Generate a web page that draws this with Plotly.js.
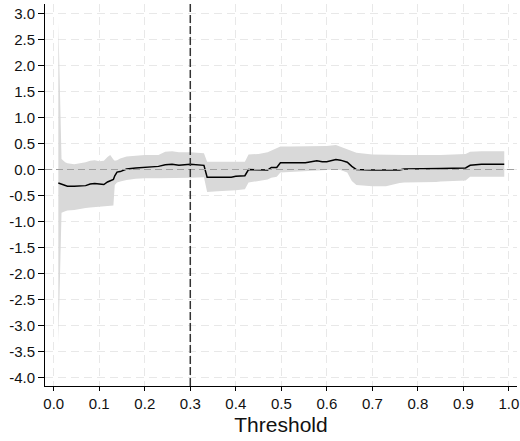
<!DOCTYPE html>
<html>
<head>
<meta charset="utf-8">
<script src="https://cdn.plot.ly/plotly-3.0.1.min.js"></script>
<style>html,body{margin:0;padding:0;background:#fff;}#chart{width:520px;height:441px;}</style>
</head>
<body>
<div id="chart"></div>
<script>
// Threshold values (x)
const threshold = [0.010,0.017,0.025,0.030,0.045,0.060,0.070,0.080,0.090,0.100,0.110,0.118,0.124,0.131,0.134,0.139,0.146,0.160,0.180,0.200,0.230,0.245,0.260,0.275,0.300,0.330,0.337,0.360,0.390,0.400,0.420,0.428,0.450,0.470,0.478,0.490,0.498,0.520,0.553,0.578,0.590,0.600,0.620,0.630,0.645,0.655,0.665,0.700,0.730,0.760,0.770,0.840,0.850,0.905,0.915,0.940,0.990];
// Point estimate
const estimate = [-0.26,-0.28,-0.31,-0.32,-0.32,-0.32,-0.31,-0.28,-0.27,-0.28,-0.29,-0.24,-0.21,-0.19,-0.12,-0.05,-0.04,0.01,0.03,0.04,0.06,0.09,0.10,0.08,0.10,0.08,-0.15,-0.15,-0.15,-0.13,-0.12,0.00,0.00,-0.01,0.04,0.04,0.13,0.13,0.13,0.17,0.15,0.15,0.19,0.18,0.14,0.06,0.00,-0.01,-0.01,-0.01,0.01,0.01,0.02,0.03,0.08,0.10,0.10];
// Lower confidence bound
const lower = [-3.37,-0.83,-0.80,-0.79,-0.78,-0.75,-0.74,-0.73,-0.72,-0.72,-0.71,-0.70,-0.70,-0.69,-0.30,-0.25,-0.23,-0.20,-0.18,-0.17,-0.17,-0.17,-0.16,-0.16,-0.16,-0.15,-0.43,-0.42,-0.41,-0.40,-0.38,-0.25,-0.22,-0.19,-0.16,-0.14,-0.06,-0.05,-0.03,-0.01,-0.01,-0.01,0.00,-0.01,-0.06,-0.22,-0.30,-0.32,-0.32,-0.26,-0.25,-0.24,-0.23,-0.21,-0.14,-0.14,-0.14];
// Upper confidence bound
const upper = [2.84,0.20,0.14,0.12,0.10,0.12,0.14,0.17,0.18,0.16,0.17,0.24,0.28,0.19,0.17,0.18,0.21,0.25,0.27,0.28,0.28,0.34,0.35,0.33,0.33,0.31,0.15,0.15,0.15,0.15,0.15,0.29,0.30,0.33,0.36,0.40,0.44,0.44,0.44,0.45,0.45,0.45,0.47,0.44,0.38,0.35,0.32,0.29,0.28,0.28,0.28,0.28,0.28,0.30,0.34,0.35,0.35];

const cutoff = [0.3];
const xTickVals = [0,0.1,0.2,0.3,0.4,0.5,0.6,0.7,0.8,0.9,1.0];
const xTickText = ["0.0","0.1","0.2","0.3","0.4","0.5","0.6","0.7","0.8","0.9","1.0"];
const yTickVals = [-4,-3.5,-3,-2.5,-2,-1.5,-1,-0.5,0,0.5,1,1.5,2,2.5,3];
const yTickText = ["-4.0","-3.5","-3.0","-2.5","-2.0","-1.5","-1.0","-0.5","0.0","0.5","1.0","1.5","2.0","2.5","3.0"];

const font = "Liberation Sans, Arial, sans-serif";

const traces = [
  {x: threshold, y: upper, type: 'scatter', mode: 'lines', line: {width: 0, color: 'rgba(0,0,0,0)'}, hoverinfo: 'skip', showlegend: false},
  {x: threshold, y: lower, type: 'scatter', mode: 'lines', line: {width: 0, color: 'rgba(0,0,0,0)'}, fill: 'tonexty', fillcolor: '#d9d9d9', hoverinfo: 'skip', showlegend: false},
  {x: threshold, y: estimate, type: 'scatter', mode: 'lines', line: {width: 1.5, color: '#000'}, showlegend: false}
];

const layout = {
  width: 520, height: 441,
  margin: {l: 45, r: 3, t: 4, b: 55},
  paper_bgcolor: '#fff', plot_bgcolor: '#fff',
  font: {family: font, size: 15, color: '#111'},
  showlegend: false,
  xaxis: {
    range: [-0.0193, 1.018],
    tickvals: xTickVals, ticktext: xTickText,
    showline: true, linecolor: '#000', linewidth: 1,
    ticks: 'outside', ticklen: 4, tickcolor: '#000',
    showgrid: true, gridcolor: '#e8e8e8', griddash: '8px,5px', gridwidth: 1,
    zeroline: false,
    tickfont: {size: 15, family: font},
    title: {text: 'Threshold', font: {size: 21, family: font}, standoff: 6}
  },
  yaxis: {
    range: [-4.16, 3.18],
    tickvals: yTickVals, ticktext: yTickText,
    showline: true, linecolor: '#000', linewidth: 1,
    ticks: 'outside', ticklen: 6, tickcolor: '#000',
    showgrid: true, gridcolor: '#e8e8e8', griddash: '8px,5px', gridwidth: 1,
    zeroline: false,
    tickfont: {size: 15, family: font}
  },
  shapes: [
    {type: 'line', xref: 'paper', yref: 'y', x0: 0, x1: 1, y0: 0, y1: 0, line: {color: '#a0a0a0', width: 1.2, dash: '7px,4px'}, layer: 'above'},
    {type: 'line', xref: 'x', yref: 'paper', x0: cutoff[0], x1: cutoff[0], y0: 0, y1: 1, line: {color: '#333', width: 1.5, dash: '8px,3px'}, layer: 'above'}
  ]
};

Plotly.newPlot('chart', traces, layout, {staticPlot: true, displayModeBar: false});
</script>
</body>
</html>
